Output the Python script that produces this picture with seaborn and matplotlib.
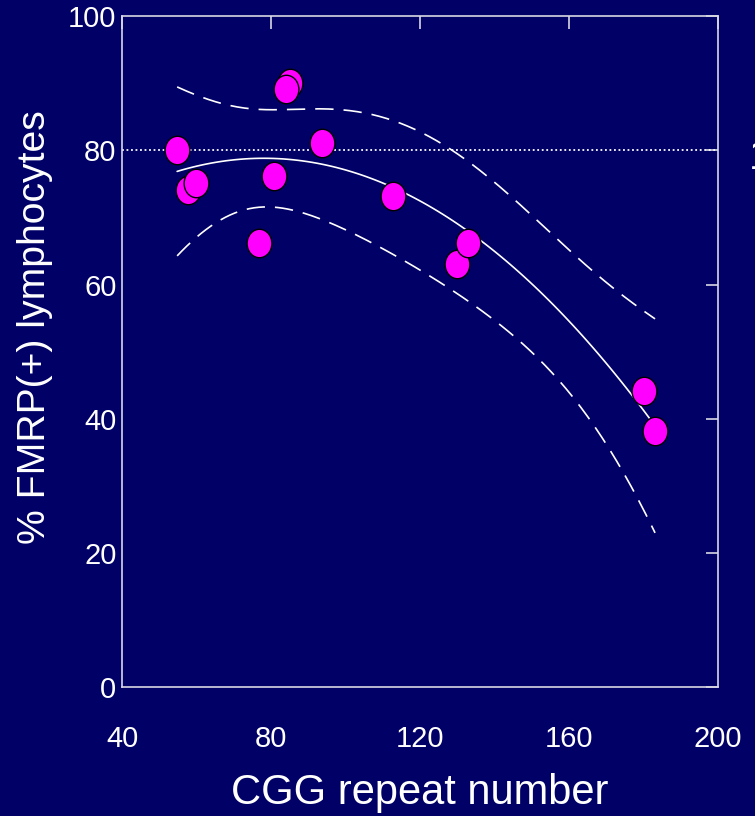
import numpy as np
import seaborn as sns
import matplotlib.pyplot as plt
from matplotlib.path import Path
from matplotlib.transforms import Affine2D

# Config
BG = '#000066'
FG = '#ffffff'
SPINE = '#d8d8e4'
DOT = '#ff00ff'

# Data
cgg_repeats = [54.8, 57.7, 59.9, 85.1, 84.0, 93.7, 80.8, 76.8, 112.8, 129.9, 132.9, 180.1, 183.1]
fmrp_pct = [80.0, 74.1, 75.1, 90.0, 89.1, 81.1, 76.2, 66.2, 73.2, 63.0, 66.2, 44.1, 38.2]
x_ticks = [40, 80, 120, 160, 200]
y_ticks = [0, 20, 40, 60, 80, 100]
ref_level = 80

sns.set_style('white', {'axes.facecolor': BG, 'figure.facecolor': BG})
plt.rcParams['font.family'] = ['Liberation Sans', 'DejaVu Sans']

fig = plt.figure(figsize=(7.55, 8.16), dpi=100, facecolor=BG)
ax = fig.add_axes([0.1616, 0.158, 0.7894, 0.822])
ax.set_facecolor(BG)

x = np.array(cgg_repeats)
y = np.array(fmrp_pct)

# quadratic fit + 99% confidence band of the mean
X = np.vander(x, 3)
beta, *_ = np.linalg.lstsq(X, y, rcond=None)
resid = y - X @ beta
s2 = (resid ** 2).sum() / (len(x) - 3)
cov = s2 * np.linalg.inv(X.T @ X)
grid = np.linspace(x.min(), x.max(), 200)
Xg = np.vander(grid, 3)
fit = Xg @ beta
se = np.sqrt(np.sum((Xg @ cov) * Xg, axis=1))
t_crit = 3.169  # df = 10, two-sided 99%

ax.axhline(ref_level, color=FG, lw=1.3, ls=(0, (1, 1.5)), zorder=1)
sns.regplot(x=x, y=y, order=2, ci=None, scatter=False, ax=ax,
            line_kws={'color': FG, 'lw': 1.2, 'zorder': 2})
for band in (fit + t_crit * se, fit - t_crit * se):
    sns.lineplot(x=grid, y=band, ax=ax, color=FG, lw=1.2,
                 linestyle=(0, (11, 6)), zorder=2)

# slightly tall ellipse markers
oval = Path.unit_circle().transformed(Affine2D().scale(0.87, 1.0))
sns.scatterplot(x=x, y=y, ax=ax, marker=oval, s=420, color=DOT,
                edgecolor='black', linewidth=1, zorder=3)

ax.set_xlim(40, 200)
ax.set_ylim(0, 100)
ax.set_xticks(x_ticks)
ax.set_yticks(y_ticks)
ax.tick_params(axis='both', which='both', direction='in', length=9, width=1.2,
               color=SPINE, labelcolor=FG, labelsize=21,
               top=True, right=True)
ax.tick_params(axis='x', pad=27)
ax.tick_params(axis='y', pad=4)
for sp in ax.spines.values():
    sp.set_visible(True)
    sp.set_color(SPINE)
    sp.set_linewidth(1.2)

ax.set_xlabel('CGG repeat number', color=FG, fontsize=30, labelpad=15)
ax.set_ylabel('% FMRP(+) lymphocytes', color=FG, fontsize=28.2)
ax.yaxis.set_label_coords(-0.116, 0.536)

# clipped label at the right edge of the slide
fig.text(749 / 755, 1 - 138 / 816, '1', color=FG, fontsize=30, ha='left', va='top')

fig.savefig('out.png', dpi=100, facecolor=BG)
